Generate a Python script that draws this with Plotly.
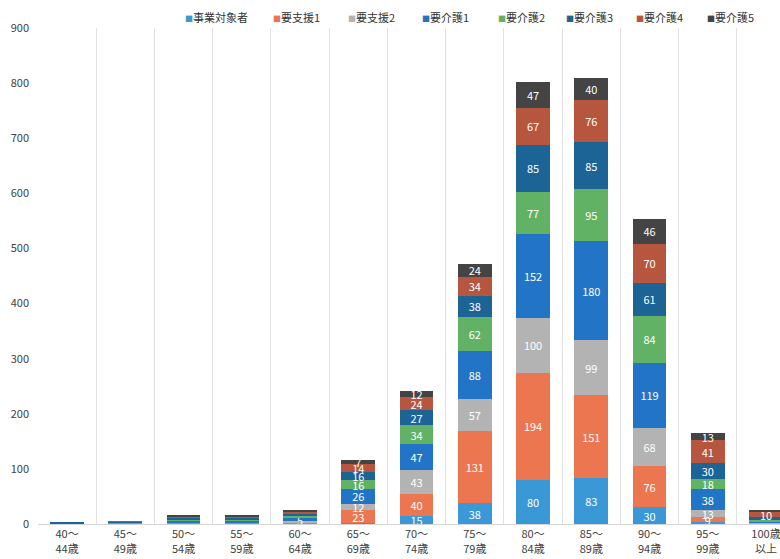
import plotly.graph_objects as go

categories = ["40～<br>44歳", "45～<br>49歳", "50～<br>54歳", "55～<br>59歳", "60～<br>64歳",
              "65～<br>69歳", "70～<br>74歳", "75～<br>79歳", "80～<br>84歳", "85～<br>89歳",
              "90～<br>94歳", "95～<br>99歳", "100歳<br>以上"]

series_names = ["事業対象者", "要支援1", "要支援2", "要介護1", "要介護2", "要介護3", "要介護4", "要介護5"]

jigyo      = [0, 0, 1, 0, 0, 2, 15, 38, 80, 83, 30, 3, 0]
shien1     = [0, 0, 1, 2, 3, 23, 40, 131, 194, 151, 76, 9, 1]
shien2     = [1, 0, 1, 1, 2, 12, 43, 57, 100, 99, 68, 13, 1]
kaigo1     = [0, 1, 3, 3, 5, 26, 47, 88, 152, 180, 119, 38, 3]
kaigo2     = [0, 1, 3, 2, 4, 16, 34, 62, 77, 95, 84, 18, 3]
kaigo3     = [1, 2, 3, 3, 4, 16, 27, 38, 85, 85, 61, 30, 4]
kaigo4     = [0, 1, 2, 3, 4, 14, 24, 34, 67, 76, 70, 41, 10]
kaigo5     = [0, 0, 2, 2, 3, 7, 12, 24, 47, 40, 46, 13, 2]

series_values = [jigyo, shien1, shien2, kaigo1, kaigo2, kaigo3, kaigo4, kaigo5]
colors = ["#3a98d6", "#ec7650", "#b3b3b3", "#2274c6", "#62b265", "#1d6496", "#b6563f", "#444444"]

y_ticks = [0, 100, 200, 300, 400, 500, 600, 700, 800, 900]

FONT = "Noto Sans CJK JP, sans-serif"

W, H = 780, 559
ML, MR, MT, MB = 38, 0, 28, 35
PW, PH = W - ML - MR, H - MT - MB

# legend entry left edges in pixels (layout only)
legend_px = [183, 271, 346, 420, 496, 564, 634, 705]
legend_py = 17

fig = go.Figure()
for name, vals, col in zip(series_names, series_values, colors):
    fig.add_trace(go.Bar(
        name=name,
        x=categories,
        y=vals,
        marker=dict(color=col, line=dict(width=0)),
        width=0.58,
        text=[str(v) if v >= 5 else "" for v in vals],
        textposition="inside",
        insidetextanchor="middle",
        textangle=0,
        insidetextfont=dict(color="white", size=11, family=FONT),
        showlegend=False,
    ))

annotations = []
for name, col, px in zip(series_names, colors, legend_px):
    annotations.append(dict(
        text=f"<span style='color:{col};font-size:8px'>■</span>{name}",
        xref="paper", yref="paper",
        x=(px - ML) / PW, y=(H - MB - legend_py) / PH,
        xanchor="left", yanchor="middle",
        showarrow=False,
        font=dict(size=11, color="#333333", family=FONT),
    ))

fig.update_layout(
    barmode="stack",
    width=W, height=H,
    margin=dict(l=ML, r=MR, t=MT, b=MB, autoexpand=False),
    paper_bgcolor="white",
    plot_bgcolor="white",
    font=dict(family=FONT, color="#404040", size=11),
    uniformtext=dict(minsize=11, mode="show"),
    showlegend=False,
    annotations=annotations,
    xaxis=dict(
        type="category",
        range=[-0.5, 12.24],
        autorange=False,
        automargin=False,
        tickson="boundaries",
        showgrid=True, gridcolor="#e3e3e3", gridwidth=1,
        ticks="", showline=True, linecolor="#d4d4d4",
        tickfont=dict(size=11, color="#404040"),
    ),
    yaxis=dict(
        range=[0, 900], tickvals=y_ticks, automargin=False,
        showgrid=False, zeroline=False, showline=False,
        ticks="", ticklabelstandoff=8,
        tickfont=dict(size=11, color="#404040"),
    ),
)

fig.write_html("out.html")
